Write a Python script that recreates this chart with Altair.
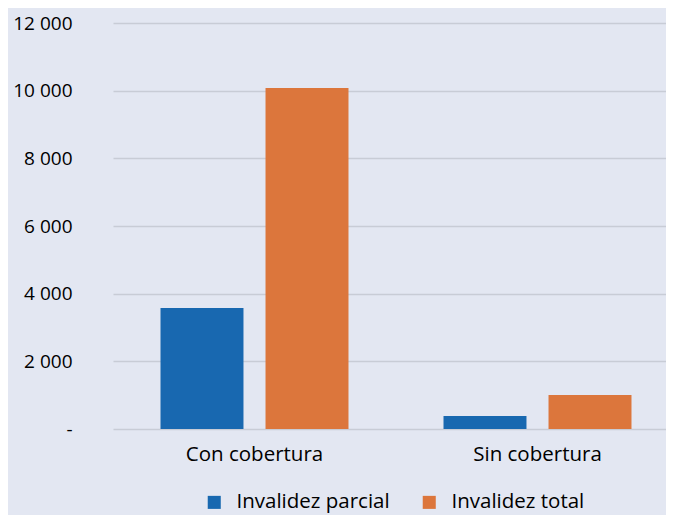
import altair as alt
import pandas as pd

categories = ["Con cobertura", "Sin cobertura"]
series = ["Invalidez parcial", "Invalidez total"]
parcial = [3580, 385]
total = [10080, 1005]
colors = ["#1868B0", "#DC763C"]

rows = []
for i, c in enumerate(categories):
    rows.append({"cat": c, "serie": series[0], "valor": parcial[i]})
    rows.append({"cat": c, "serie": series[1], "valor": total[i]})
df = pd.DataFrame(rows)

FONT = "Open Sans"
BG = "#E3E7F2"

chart = alt.Chart(df).mark_bar().encode(
    x=alt.X("cat:N", sort=categories, title=None,
            scale=alt.Scale(range=[9, 575], paddingInner=0, paddingOuter=0),
            axis=alt.Axis(labelAngle=0, ticks=False, domain=False, labelPadding=15,
                          labelFontSize=20.5, labelColor="#000000", labelFont=FONT)),
    xOffset=alt.XOffset("serie:N", sort=series,
                        scale=alt.Scale(paddingInner=0.21, paddingOuter=0.4524)),
    y=alt.Y("valor:Q", title=None,
            scale=alt.Scale(domain=[0, 12000]),
            axis=alt.Axis(values=[0, 2000, 4000, 6000, 8000, 10000, 12000],
                          labelExpr="datum.value == 0 ? '-' : replace(format(datum.value, ','), ',', ' ')",
                          ticks=False, domain=False, labelPadding=32,
                          labelFontSize=19, labelColor="#000000", labelFont=FONT,
                          gridColor="#C8CCD6", gridWidth=1.5)),
    color=alt.Color("serie:N", sort=series, title=None,
                    scale=alt.Scale(domain=series, range=colors),
                    legend=alt.Legend(orient="none", direction="horizontal",
                                      legendX=100, legendY=469,
                                      symbolType="square", symbolSize=170,
                                      symbolStrokeWidth=0,
                                      labelFontSize=20.5, labelFont=FONT,
                                      labelColor="#000000", columnPadding=29,
                                      labelOffset=12)),
).properties(
    width=562, height=406,
    autosize=alt.AutoSizeParams(type="none"),
    padding={"left": 96, "top": 15, "right": 0, "bottom": 86},
    background=BG,
).configure_view(stroke=None, fill=BG)

chart.save("out.html", embed_options={"renderer": "svg", "actions": False})
